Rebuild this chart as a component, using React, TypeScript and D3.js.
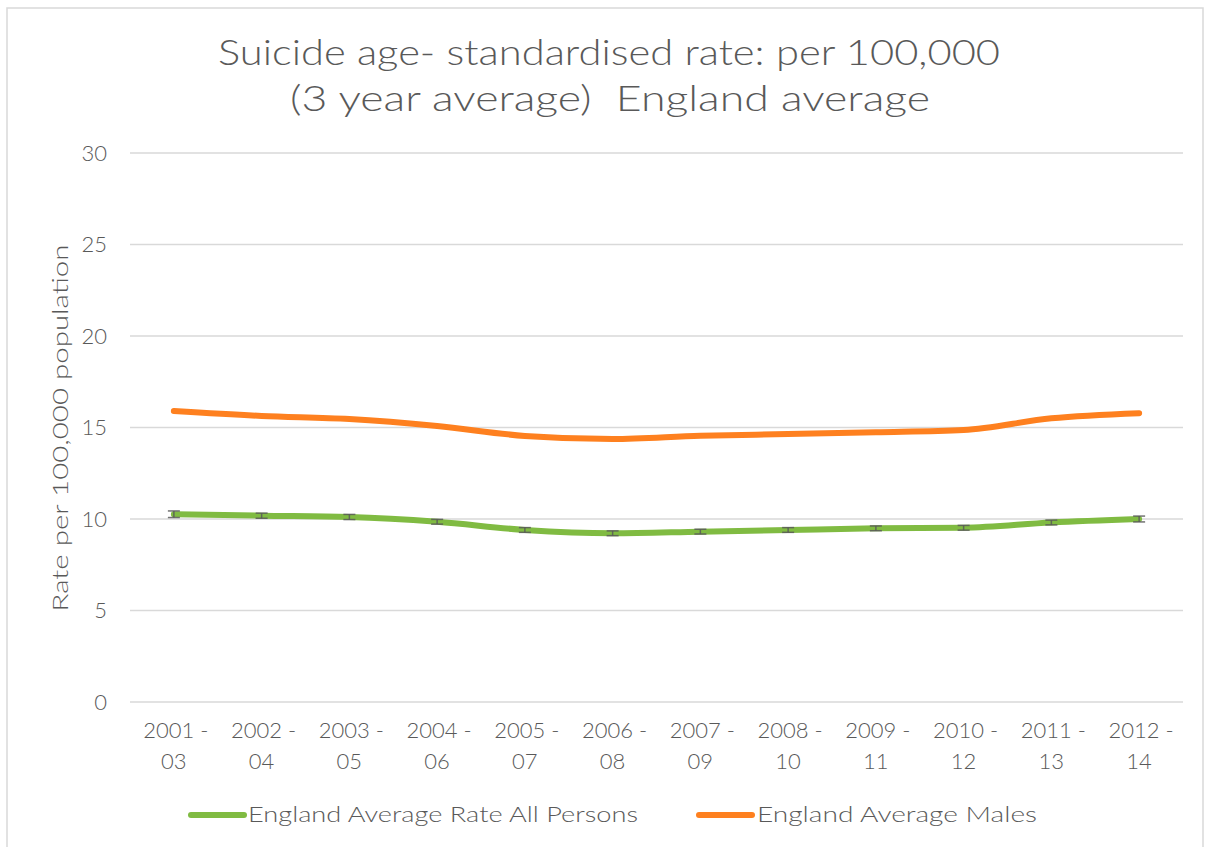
import React from "react";
import * as d3 from "d3";

const categories = ["2001 - 03", "2002 - 04", "2003 - 05", "2004 - 06", "2005 - 07", "2006 - 08", "2007 - 09", "2008 - 10", "2009 - 11", "2010 - 12", "2011 - 13", "2012 - 14"];
const allPersons = [10.26, 10.18, 10.11, 9.85, 9.4, 9.22, 9.31, 9.4, 9.49, 9.52, 9.81, 10.0];
const allPersonsErr = [0.18, 0.14, 0.14, 0.13, 0.13, 0.13, 0.13, 0.13, 0.13, 0.13, 0.13, 0.16];
const males = [15.9, 15.63, 15.46, 15.08, 14.54, 14.37, 14.55, 14.64, 14.74, 14.86, 15.5, 15.78];
const yTicks = [0, 5, 10, 15, 20, 25, 30];
const seriesNames = ["England Average Rate All Persons", "England Average Males"];

const W = 1205, H = 847;
const left = 130, right = 1183, top = 153, bottom = 702;
const FONT = "'Lato', 'Open Sans', sans-serif";
const TXT = "#595959";
const GREEN = "#80bb42";
const ORANGE = "#fe801f";

export default function App() {
  const x = d3.scaleBand<string>().domain(categories).range([left, right]);
  const xc = (c: string) => (x(c) as number) + x.bandwidth() / 2;
  const y = d3.scaleLinear().domain([0, 30]).range([bottom, top]);
  const line = d3
    .line<number>()
    .x((_, i) => xc(categories[i]))
    .y((d) => y(d))
    .curve(d3.curveMonotoneX);

  return (
    <svg width={W} height={H} style={{ position: "absolute", left: 0, top: 0, display: "block" }} fontFamily={FONT} fontWeight={300}>
      <rect x={0} y={0} width={W} height={H} fill="#fff" />
      <rect x={7} y={8} width={1196} height={860} fill="#fff" stroke="#d9d9d9" strokeWidth={1.5} />
      <text x={609} y={65} textAnchor="middle" fontSize={35} fill={TXT} textLength={782} lengthAdjust="spacingAndGlyphs">
        Suicide age- standardised rate: per 100,000
      </text>
      <text x={610} y={111} textAnchor="middle" fontSize={35} fill={TXT} textLength={640} lengthAdjust="spacingAndGlyphs" style={{ whiteSpace: "pre" }}>
        {"(3 year average)  England average"}
      </text>
      {yTicks.map((t) => (
        <g key={t}>
          <line x1={left} x2={right} y1={y(t)} y2={y(t)} stroke="#d9d9d9" strokeWidth={1.5} />
          <text x={107} y={y(t)} dy="0.35em" textAnchor="end" fontSize={22} fill={TXT}>
            {t}
          </text>
        </g>
      ))}
      <text transform={`translate(68,428) rotate(-90)`} textAnchor="middle" fontSize={22} fill={TXT} textLength={367} lengthAdjust="spacingAndGlyphs">
        Rate per 100,000 population
      </text>
      {categories.map((c) => {
        const [a, b] = c.split(" - ");
        return (
          <g key={c}>
            <text x={xc(c) + 2} y={738} textAnchor="middle" fontSize={22} fill={TXT} style={{ whiteSpace: "pre" }}>
              {a + " -"}
            </text>
            <text x={xc(c)} y={769} textAnchor="middle" fontSize={22} fill={TXT}>
              {b}
            </text>
          </g>
        );
      })}
      <path d={line(males) || ""} fill="none" stroke={ORANGE} strokeWidth={6} strokeLinecap="round" strokeLinejoin="round" />
      <path d={line(allPersons) || ""} fill="none" stroke={GREEN} strokeWidth={6} strokeLinecap="round" strokeLinejoin="round" />
      {allPersons.map((v, i) => {
        const cx = xc(categories[i]);
        const e = allPersonsErr[i];
        return (
          <g key={i} stroke="#595959" strokeOpacity={0.85} strokeWidth={1.5}>
            <line x1={cx} x2={cx} y1={y(v - e)} y2={y(v + e)} />
            <line x1={cx - 6} x2={cx + 6} y1={y(v + e)} y2={y(v + e)} />
            <line x1={cx - 6} x2={cx + 6} y1={y(v - e)} y2={y(v - e)} />
          </g>
        );
      })}
      <line x1={191} x2={244} y1={815} y2={815} stroke={GREEN} strokeWidth={6} strokeLinecap="round" />
      <text x={248} y={822} fontSize={22} fill={TXT} textLength={390} lengthAdjust="spacingAndGlyphs">
        {seriesNames[0]}
      </text>
      <line x1={699} x2={752} y1={815} y2={815} stroke={ORANGE} strokeWidth={6} strokeLinecap="round" />
      <text x={757} y={822} fontSize={22} fill={TXT} textLength={280} lengthAdjust="spacingAndGlyphs">
        {seriesNames[1]}
      </text>
    </svg>
  );
}
